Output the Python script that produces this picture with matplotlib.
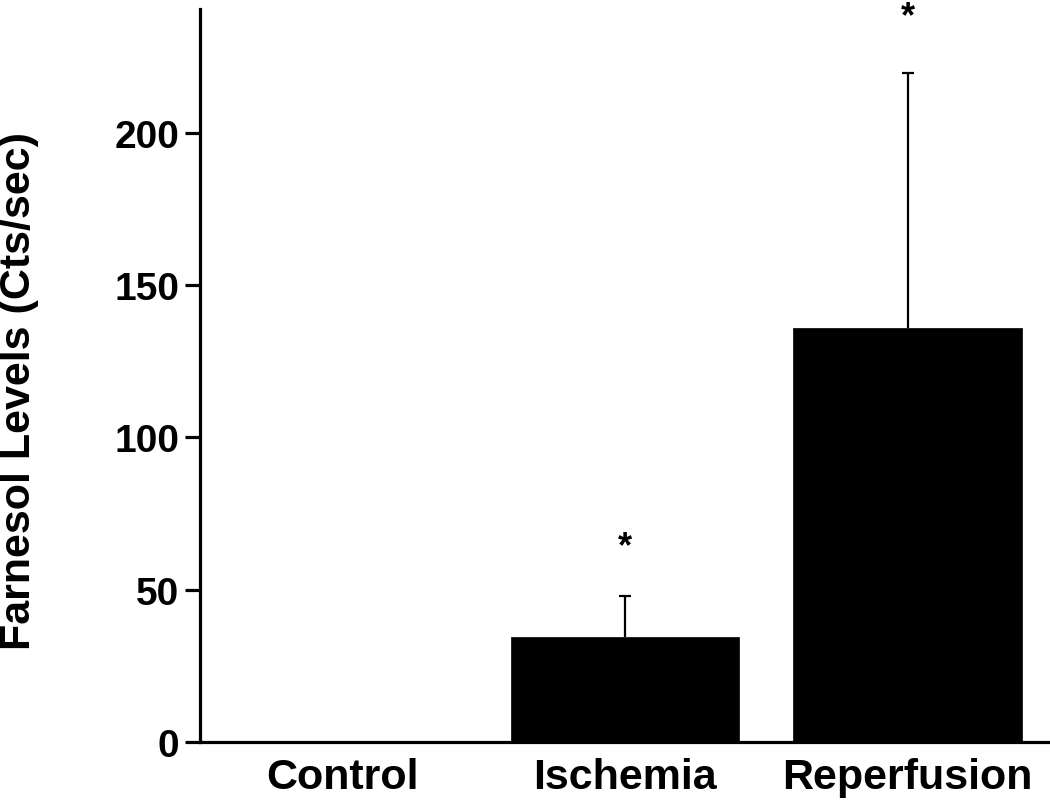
import matplotlib.pyplot as plt
import numpy as np

# data
groups = ['Control', 'Ischemia', 'Reperfusion']
means = [0.0, 34.5, 135.9]
errs = [0.0, 13.4, 83.7]
stars = ['', '*', '*']
star_y = [0, 64, 238]
yticks = [0, 50, 100, 150, 200]

plt.rcParams['font.family'] = ['Liberation Sans', 'DejaVu Sans']
plt.rcParams['font.weight'] = 'bold'

fig = plt.figure(figsize=(10.5, 8.03), dpi=100)
ax = fig.add_axes([200/1050, 60/803, 848/1050, 733/803])

x = np.arange(len(groups))
ax.bar(x, means, width=0.81, color='black', edgecolor='black', linewidth=0.5)
#solo barras de error hacia arriba
eb = ax.errorbar(x[1:], means[1:], yerr=[np.zeros(2), errs[1:]], fmt='none',
                 ecolor='black', elinewidth=1.6, capsize=4, capthick=1.6)
eb[1][0].set_visible(False)
for xi, s, sy in zip(x, stars, star_y):
    if s:
        ax.text(xi, sy, s, ha='center', va='center', fontsize=26,
                fontweight='bold', clip_on=False)

ax.set_xlim(-0.504, 2.497)
ax.set_ylim(0, 240.6)
ax.set_yticks(yticks)
ax.set_xticks(x)
ax.set_xticklabels(groups)
ax.set_ylabel('Farnesol Levels (Cts/sec)', fontsize=31, fontweight='bold',
              labelpad=54, y=0.48)

for side in ['top', 'right']:
    ax.spines[side].set_visible(False)
for side in ['left', 'bottom']:
    ax.spines[side].set_linewidth(2.3)
ax.tick_params(axis='y', direction='out', length=11, width=2.3, labelsize=28, pad=4)
ax.tick_params(axis='x', length=0, labelsize=31, pad=11)

fig.savefig('out.png', dpi=100)
